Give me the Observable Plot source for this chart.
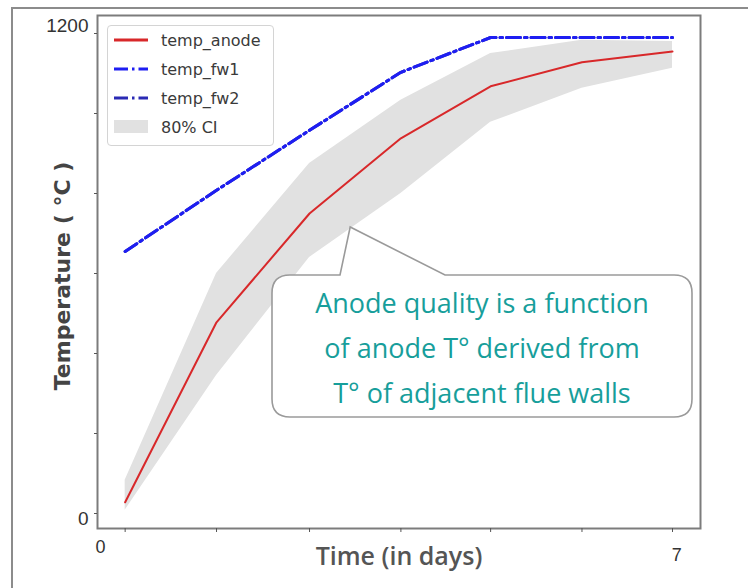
<!DOCTYPE html>
<html><head><meta charset="utf-8">
<script src="https://cdn.jsdelivr.net/npm/d3@7"></script>
<script src="https://cdn.jsdelivr.net/npm/@observablehq/plot@0.6"></script>
<style>
html,body{margin:0;padding:0;background:#fff;}
#wrap{position:relative;width:748px;height:588px;overflow:hidden;}
#outer{position:absolute;left:11px;top:7px;width:900px;height:700px;border-left:2px solid #8c8c8c;border-top:2px solid #8c8c8c;}
#chart{position:absolute;left:0;top:0;}
#legend{position:absolute;left:107px;top:25px;width:165px;height:119px;border:1px solid #d4d4d4;border-radius:4px;background:rgba(255,255,255,0.85);font-family:"DejaVu Sans";font-size:16px;color:#3a3a3a;}
.row{position:absolute;left:5px;height:28px;display:flex;align-items:center;}
.row svg{width:36px;height:20px;margin-right:12px;}
</style></head><body>
<div id="wrap"><div id="outer"></div><div id="chart"></div><div id="legend"></div></div>
<script>
// ---- data ----
const days      = [0.3, 1.41, 2.54, 3.65, 4.74, 5.85, 6.95];
const tempAnode = [28, 478, 750, 938, 1068, 1128, 1155];
const tempFw1   = [655, 808, 958, 1103, 1190, 1190, 1190];
const tempFw2   = [655, 808, 958, 1103, 1190, 1190, 1190];
const ciLow     = [8, 345, 640, 800, 978, 1063, 1113];
const ciHigh    = [83, 600, 875, 1033, 1150, 1183, 1180];
const yTickValues = [0, 200, 400, 600, 800, 1000, 1200];
const xTickLabels = ["0", "7"];
const yTickLabels = ["0", "1200"];
const seriesNames = ["temp_anode", "temp_fw1", "temp_fw2", "80% CI"];
const calloutLines = ["Anode quality is a function", "of anode T\u00B0 derived from", "T\u00B0 of adjacent flue walls"];
const calloutTarget = {day: 3.04, temp: 715};

const rows = days.map((d, i) => ({day: d, anode: tempAnode[i], fw1: tempFw1[i], fw2: tempFw2[i], lo: ciLow[i], hi: ciHigh[i]}));

const RED = "#d8282a", FW1 = "#1e1ef2", FW2 = "#2a2ab4", BAND = "#e1e1e1";
const DASH = "14,4,2.5,4";

const plot = Plot.plot({
  width: 748, height: 588,
  marginLeft: 97, marginRight: 48, marginTop: 15, marginBottom: 60,
  x: {domain: [-0.036, 7.29]},
  y: {domain: [-37.5, 1245]},
  style: {background: "transparent", fontFamily: "Liberation Sans", color: "#333"},
  marks: [
    Plot.areaY(rows, {x: "day", y1: "lo", y2: "hi", fill: BAND}),
    Plot.lineY(rows, {x: "day", y: "anode", stroke: RED, strokeWidth: 2}),
    Plot.lineY(rows, {x: "day", y: "fw2", stroke: FW2, strokeWidth: 3, strokeDasharray: DASH}),
    Plot.lineY(rows, {x: "day", y: "fw1", stroke: FW1, strokeWidth: 3, strokeDasharray: DASH}),
    Plot.frame({stroke: "#7c7c7c", strokeWidth: 2}),
    Plot.axisX({ticks: days, tickSize: 4, tickFormat: () => "", stroke: "#555", label: null}),
    Plot.axisX({ticks: [0], tickSize: 0, tickPadding: 12, tickFormat: () => xTickLabels[0], fontSize: 18, label: null}),
    Plot.axisX({ticks: [7], tickSize: 0, tickPadding: 20, tickFormat: () => xTickLabels[1], fontSize: 18, label: null}),
    Plot.axisY({ticks: yTickValues, tickSize: 3, tickFormat: () => "", stroke: "#555", label: null}),
    Plot.axisY({ticks: [1200], tickSize: 0, tickPadding: 9, dy: -8, tickFormat: () => yTickLabels[1], fontSize: 19, label: null}),
    Plot.axisY({ticks: [0], tickSize: 0, tickPadding: 9, dy: 5, tickFormat: () => yTickLabels[0], fontSize: 19, label: null}),
    Plot.text(["Time (in days)"], {frameAnchor: "bottom", dy: 36, fontFamily: "Open Sans", fontWeight: 600, fontSize: 25, fill: "#555", text: d => d}),
    Plot.text(["Temperature ( \u00B0C )"], {frameAnchor: "left", textAnchor: "middle", dx: -35, dy: 4, rotate: -90, fontFamily: "DejaVu Sans", fontWeight: "bold", fontSize: 22, fill: "#444", text: d => d})
  ]
});
document.getElementById("chart").appendChild(plot);

// ---- callout annotation anchored on the CI band ----
const svg = d3.select(plot);
const tx = plot.scale("x").apply(calloutTarget.day);
const ty = plot.scale("y").apply(calloutTarget.temp);
const bx0 = 272, by0 = 275, bx1 = 692, by1 = 417, r = 18;
const nL = 340, nR = 445;
const path = `M${bx0 + r},${by0} L${nL},${by0} L${tx},${ty} L${nR},${by0} L${bx1 - r},${by0} Q${bx1},${by0} ${bx1},${by0 + r} L${bx1},${by1 - r} Q${bx1},${by1} ${bx1 - r},${by1} L${bx0 + r},${by1} Q${bx0},${by1} ${bx0},${by1 - r} L${bx0},${by0 + r} Q${bx0},${by0} ${bx0 + r},${by0} Z`;
const g = svg.append("g");
g.append("path").attr("d", path).attr("fill", "#fff").attr("stroke", "#9a9a9a").attr("stroke-width", 1.6);
calloutLines.forEach((s, i) => {
  g.append("text").attr("x", (bx0 + bx1) / 2).attr("y", 313 + i * 45).attr("text-anchor", "middle")
    .attr("font-family", "Open Sans").attr("font-size", 27).attr("fill", "#179e9b").text(s);
});

// ---- legend ----
const legend = document.getElementById("legend");
const swatches = [
  `<line x1="1" x2="35" y1="10" y2="10" stroke="${RED}" stroke-width="3"/>`,
  `<line x1="1" x2="35" y1="10" y2="10" stroke="${FW1}" stroke-width="3" stroke-dasharray="${DASH}"/>`,
  `<line x1="1" x2="35" y1="10" y2="10" stroke="${FW2}" stroke-width="3" stroke-dasharray="${DASH}"/>`,
  `<rect x="1" y="3" width="34" height="13" fill="${BAND}"/>`
];
seriesNames.forEach((n, i) => {
  const row = document.createElement("div");
  row.className = "row";
  row.style.top = (0 + i * 29) + "px";
  row.innerHTML = `<svg viewBox="0 0 36 20">${swatches[i]}</svg><span>${n}</span>`;
  legend.appendChild(row);
});
</script>
</body></html>
